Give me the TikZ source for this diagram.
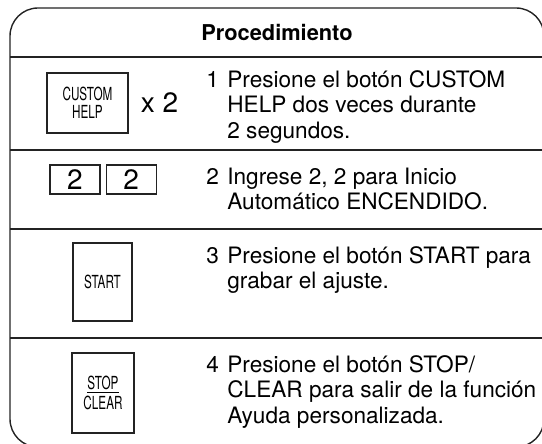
\documentclass[tikz,border=0pt]{standalone}
\usepackage{fontspec}
\setmainfont{TeX Gyre Heros}
\newfontfamily\keyfont[FakeStretch=0.65]{TeX Gyre Heros}
\usepackage{tikz}
\usetikzlibrary{positioning}
\definecolor{tableline}{RGB}{35,35,35}
\tikzset{
    tablerule/.style={draw=tableline, line width=0.7pt},
    keybox/.style={
        rectangle,
        draw=tableline,
        line width=1.4pt,
        inner sep=0pt,
        align=center,
        font=\keyfont\fontsize{9}{8.75}\selectfont
    },
    digitbox/.style={rectangle, draw=tableline, line width=0.6pt, inner sep=0pt,
        minimum width=25pt, minimum height=14.5pt, font=\fontsize{14}{14}\selectfont},
    steptext/.style={anchor=base west, inner sep=0pt, font=\fontsize{11.3}{12.75}\selectfont},
}

\begin{document}
\begin{tikzpicture}[x=0.5pt, y=-0.5pt]
    \useasboundingbox (0,0) rectangle (542,444);

    % Frame and rules
    \draw[tablerule, rounded corners=14pt] (10,8) rectangle (544,447);
    \foreach \y in {57,150,229,338}
        \draw[tablerule] (10,\y) -- (544,\y);
    \node[font=\bfseries\fontsize{10.9}{12}\selectfont] (title) at (277,32.5) {Procedimiento};

    % Keys
    \node[keybox, minimum width=40.5pt, minimum height=30pt] (customhelp) at (87.5,103) {CUSTOM\\HELP};
    \node[right=5.5pt of customhelp, inner sep=0pt, font=\fontsize{14}{14}\selectfont] (twice) {x 2};
    \node[digitbox] (digitone) at (75,179.5) {2};
    \node[digitbox, right=2.5pt of digitone] (digittwo) {2};
    \node[keybox, minimum width=29.5pt, minimum height=39pt] (start) at (102.5,282) {START};
    \node[keybox, minimum width=31pt, minimum height=40pt] (stopclear) at (103,393) {\underline{STOP}\\CLEAR};

    % Steps
    \node[steptext] (stepone) at (206,87.5) {\begin{tabular}[t]{@{}p{10.5pt}@{}l@{}}
        1 & Presione el botón CUSTOM\\ & HELP dos veces durante\\ & 2 segundos.\end{tabular}};
    \node[steptext] (steptwo) at (206,184.5) {\begin{tabular}[t]{@{}p{10.5pt}@{}l@{}}
        2 & Ingrese 2, 2 para Inicio\\ & Automático ENCENDIDO.\end{tabular}};
    \node[steptext] (stepthree) at (206,263.5) {\begin{tabular}[t]{@{}p{10.5pt}@{}l@{}}
        3 & Presione el botón START para\\ & grabar el ajuste.\end{tabular}};
    \node[steptext] (stepfour) at (206,372.5) {\begin{tabular}[t]{@{}p{10.5pt}@{}l@{}}
        4 & Presione el botón STOP/\\ & CLEAR para salir de la función\\ & Ayuda personalizada.\end{tabular}};
\end{tikzpicture}
\end{document}
